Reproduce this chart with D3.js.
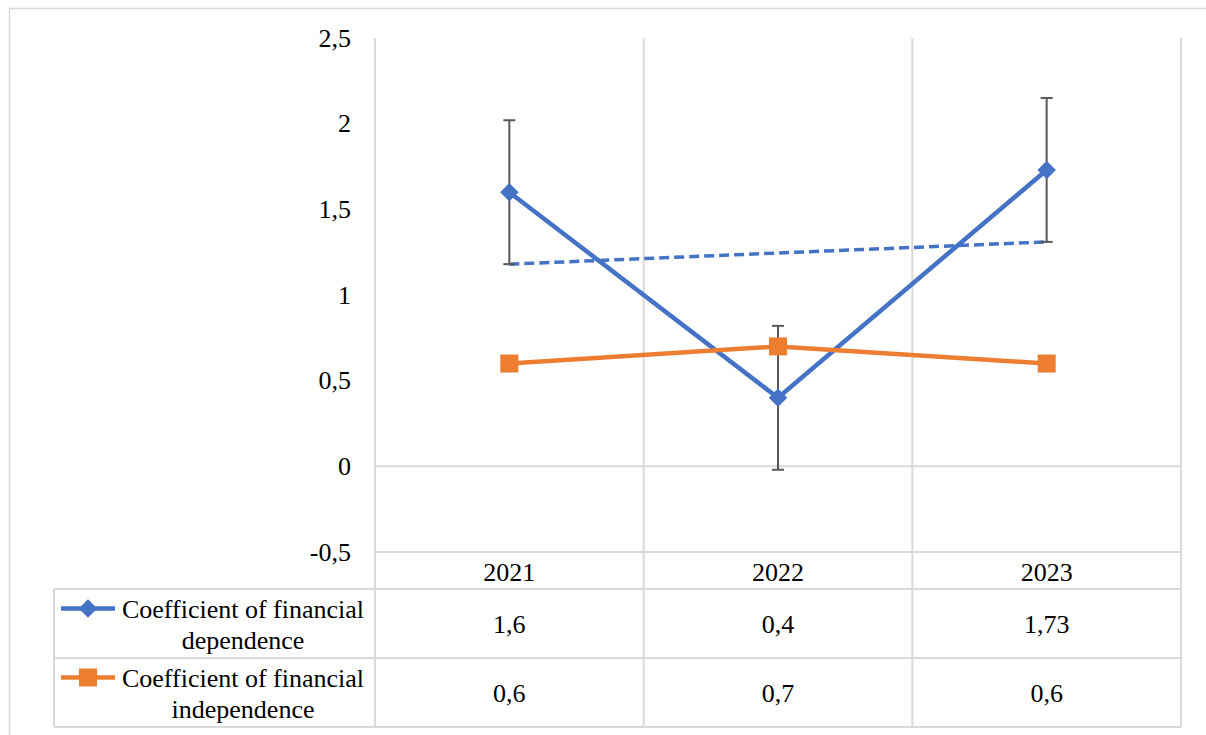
<!DOCTYPE html>
<html>
<head>
<meta charset="utf-8">
<script src="https://cdn.jsdelivr.net/npm/d3@7"></script>
<style>
  body { margin: 0; background: #fff; }
</style>
</head>
<body>
<svg id="chart" width="1206" height="735"></svg>
<script>
// data
var years = ["2021", "2022", "2023"];
var dependence = [1.6, 0.4, 1.73];
var independence = [0.6, 0.7, 0.6];
var dependenceLabels = ["1,6", "0,4", "1,73"];
var independenceLabels = ["0,6", "0,7", "0,6"];
var errorAmount = [0.42, 0.42, 0.42];     // error bars on dependence
var trendEnds = [1.18, 1.31];             // dashed linear trend, first and last year
var yTicks = [-0.5, 0, 0.5, 1, 1.5, 2, 2.5];
var seriesNames = [["Coefficient of financial", "dependence"], ["Coefficient of financial", "independence"]];

var blue = "#4472C4", orange = "#ED7D31", grid = "#d9d9d9";
var fontSize = 26;
var serif = "Liberation Serif";

var plotLeft = 375, plotRight = 1181, plotTop = 38, plotBottom = 552;
var tableLeft = 54;
var rowBottoms = [589, 658, 727];   // header, row 1, row 2

var svg = d3.select("#chart");

// set the serif face on every text node itself
function textStyle(sel) {
  return sel.attr("font-family", serif).attr("font-size", fontSize).attr("fill", "#000");
}

// outer chart border (only top/left show in frame)
svg.append("rect")
  .attr("x", 9.5).attr("y", 8.5)
  .attr("width", 1230).attr("height", 760)
  .attr("fill", "none").attr("stroke", grid).attr("stroke-width", 1.5);

var xscale = d3.scaleBand().domain(years).range([plotLeft, plotRight]);
var yscale = d3.scaleLinear().domain([-0.5, 2.5]).range([plotBottom, plotTop]);

var commaFmt = function (v) { return d3.format("")(v).replace(".", ",").replace("−", "-"); };

// vertical grid / table column lines
var colEdges = [plotLeft].concat(years.map(function (y) { return xscale(y) + xscale.bandwidth(); }));
svg.append("g").selectAll("line").data(colEdges).enter().append("line")
  .attr("x1", function (d) { return d; }).attr("x2", function (d) { return d; })
  .attr("y1", plotTop).attr("y2", rowBottoms[2])
  .attr("stroke", grid).attr("stroke-width", 2);

// zero line and bottom of plot
[0, -0.5].forEach(function (v) {
  svg.append("line")
    .attr("x1", plotLeft).attr("x2", plotRight)
    .attr("y1", yscale(v)).attr("y2", yscale(v))
    .attr("stroke", grid).attr("stroke-width", 2);
});

// table row lines + left column edge
rowBottoms.forEach(function (yy) {
  svg.append("line")
    .attr("x1", tableLeft).attr("x2", plotRight)
    .attr("y1", yy).attr("y2", yy)
    .attr("stroke", grid).attr("stroke-width", 2);
});
svg.append("line")
  .attr("x1", tableLeft).attr("x2", tableLeft)
  .attr("y1", rowBottoms[0]).attr("y2", rowBottoms[2])
  .attr("stroke", grid).attr("stroke-width", 2);

// y axis labels
var yaxis = d3.axisLeft(yscale).tickValues(yTicks).tickFormat(commaFmt).tickSize(0).tickPadding(0);
var gy = svg.append("g").attr("transform", "translate(351,0)").call(yaxis);
gy.attr("font-family", null).attr("font-size", null);
gy.select(".domain").remove();
textStyle(gy.selectAll("text")).attr("dy", "0.32em");

var cx = function (i) { return xscale(years[i]) + xscale.bandwidth() / 2; };

// trend line (dashed)
svg.append("line")
  .attr("x1", cx(0)).attr("x2", cx(2))
  .attr("y1", yscale(trendEnds[0])).attr("y2", yscale(trendEnds[1]))
  .attr("stroke", blue).attr("stroke-width", 3.5)
  .attr("stroke-dasharray", "10,5");

// error bars
var errG = svg.append("g");
dependence.forEach(function (v, i) {
  var top = yscale(v + errorAmount[i]), bot = yscale(v - errorAmount[i]);
  errG.append("line").attr("x1", cx(i)).attr("x2", cx(i)).attr("y1", top).attr("y2", bot)
    .attr("stroke", "#595959").attr("stroke-width", 2);
  [top, bot].forEach(function (yy) {
    errG.append("line").attr("x1", cx(i) - 6).attr("x2", cx(i) + 6).attr("y1", yy).attr("y2", yy)
      .attr("stroke", "#595959").attr("stroke-width", 2);
  });
});

var line = d3.line().x(function (d, i) { return cx(i); }).y(function (d) { return yscale(d); });

svg.append("path").datum(dependence).attr("d", line)
  .attr("fill", "none").attr("stroke", blue).attr("stroke-width", 4.5).attr("stroke-linejoin", "round");
svg.append("path").datum(independence).attr("d", line)
  .attr("fill", "none").attr("stroke", orange).attr("stroke-width", 4.5).attr("stroke-linejoin", "round");

var diamond = d3.symbol().type(d3.symbolSquare).size(170);
svg.append("g").selectAll("path").data(dependence).enter().append("path")
  .attr("d", diamond)
  .attr("transform", function (d, i) { return "translate(" + cx(i) + "," + yscale(d) + ") rotate(45)"; })
  .attr("fill", blue);

svg.append("g").selectAll("rect").data(independence).enter().append("rect")
  .attr("x", function (d, i) { return cx(i) - 9; })
  .attr("y", function (d) { return yscale(d) - 9; })
  .attr("width", 18).attr("height", 18)
  .attr("fill", orange);

// data table text
var headerMid = (plotBottom + rowBottoms[0]) / 2;
textStyle(svg.append("g").selectAll("text").data(years).enter().append("text"))
  .attr("x", function (d, i) { return cx(i); }).attr("y", headerMid + 1)
  .attr("dy", "0.35em").attr("text-anchor", "middle")
  .text(function (d) { return d; });

var rowMids = [(rowBottoms[0] + rowBottoms[1]) / 2, (rowBottoms[1] + rowBottoms[2]) / 2];
[dependenceLabels, independenceLabels].forEach(function (labels, r) {
  textStyle(svg.append("g").selectAll("text").data(labels).enter().append("text"))
    .attr("x", function (d, i) { return cx(i); }).attr("y", rowMids[r])
    .attr("dy", "0.35em").attr("text-anchor", "middle")
    .text(function (d) { return d; });
});

// legend keys in the table
var keyColors = [blue, orange];
seriesNames.forEach(function (name, r) {
  var ky = rowMids[r] - 15;
  var g = svg.append("g");
  g.append("line").attr("x1", 61).attr("x2", 115).attr("y1", ky).attr("y2", ky)
    .attr("stroke", keyColors[r]).attr("stroke-width", 4.5);
  if (r === 0) {
    g.append("path").attr("d", diamond).attr("transform", "translate(88," + ky + ") rotate(45)").attr("fill", blue);
  } else {
    g.append("rect").attr("x", 79).attr("y", ky - 9).attr("width", 18).attr("height", 18).attr("fill", orange);
  }
  name.forEach(function (part, k) {
    textStyle(g.append("text"))
      .attr("x", 243).attr("y", ky + k * 31).attr("dy", "0.35em")
      .attr("text-anchor", "middle")
      .text(part);
  });
});
</script>
</body>
</html>
